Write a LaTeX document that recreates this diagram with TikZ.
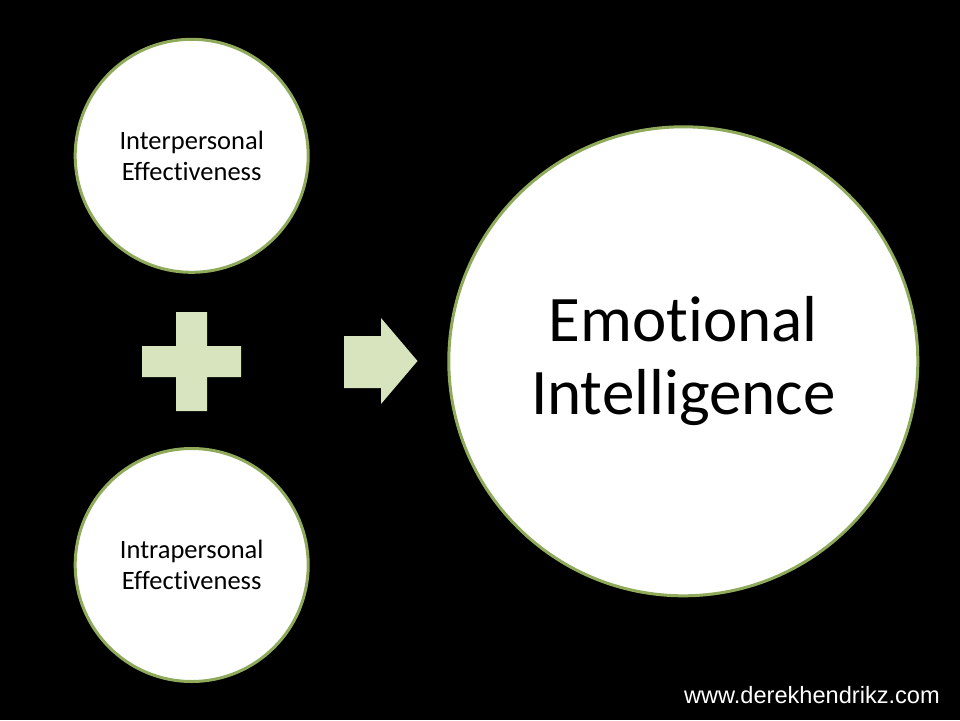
\documentclass[tikz,border=0pt]{standalone}
\usepackage{fontspec}
\setmainfont{Carlito}[Ligatures=NoCommon]
\newfontfamily\urlfont{Liberation Sans}
\usepackage{xcolor}
\usepackage{tikz}
\usetikzlibrary{positioning}
\definecolor{ringgreen}{RGB}{143,170,90}
\definecolor{signgreen}{RGB}{215,228,189}

\begin{document}
\begin{tikzpicture}[
    x=1pt, y=-1pt,
    every node/.style={inner sep=0pt},
    skill/.style={circle, draw=ringgreen, line width=3pt, fill=white,
                  minimum size=233pt, align=center,
                  font=\fontsize{26.5}{30.6}\selectfont},
    result/.style={circle, draw=ringgreen, line width=3pt, fill=white,
                   minimum size=469pt, align=center,
                   font=\fontsize{65}{73.3}\selectfont},
    sign/.style={fill=signgreen},
]

% Slide background
\fill[black] (0,0) rectangle (960,720);
\useasboundingbox (0,0) rectangle (960,720);

% Two input circles on the left
\node[skill] (inter) at (191.7,155.8) {Interpersonal\\Effectiveness};
\node[skill] (intra) at (191.7,565) {Intrapersonal\\Effectiveness};

% Result circle
\node[result] (ei) at (683.3,361.3) {Emotional\\Intelligence};

% Plus sign between the inputs
\fill[sign] (176,312) -- (207,312) -- (207,346) -- (241,346) -- (241,377)
    -- (207,377) -- (207,411) -- (176,411) -- (176,377) -- (142,377)
    -- (142,346) -- (176,346) -- cycle;

% Block arrow towards the result
\fill[sign] (344,336) -- (381,336) -- (381,318) -- (417.5,361) -- (381,404)
    -- (381,388) -- (344,388) -- cycle;

% Web address
\node[anchor=base east, text=white, font=\urlfont\fontsize{23.6}{28}\selectfont]
    (url) at (940,703) {www.derekhendrikz.com};

\end{tikzpicture}
\end{document}
